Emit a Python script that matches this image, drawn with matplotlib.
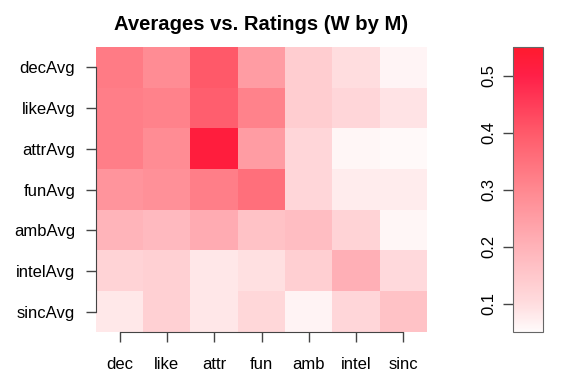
import numpy as np
import matplotlib
matplotlib.use("Agg")
import matplotlib.pyplot as plt
from matplotlib.colors import LinearSegmentedColormap, Normalize

plt.rcParams['font.family'] = ['Liberation Sans', 'DejaVu Sans']

rows = ["decAvg", "likeAvg", "attrAvg", "funAvg", "ambAvg", "intelAvg", "sincAvg"]
cols = ["dec", "like", "attr", "fun", "amb", "intel", "sinc"]

dec_avg = [0.326, 0.289, 0.400, 0.252, 0.134, 0.097, 0.060]
like_avg = [0.321, 0.312, 0.388, 0.312, 0.134, 0.113, 0.088]
attr_avg = [0.321, 0.289, 0.520, 0.252, 0.113, 0.058, 0.052]
fun_avg = [0.270, 0.280, 0.321, 0.353, 0.113, 0.075, 0.075]
amb_avg = [0.194, 0.182, 0.215, 0.162, 0.173, 0.122, 0.058]
intel_avg = [0.122, 0.129, 0.083, 0.093, 0.132, 0.206, 0.106]
sinc_avg = [0.080, 0.127, 0.083, 0.111, 0.063, 0.113, 0.162]

vals = np.array([dec_avg, like_avg, attr_avg, fun_avg, amb_avg, intel_avg, sinc_avg])

vmin, vmax = 0.05, 0.55
cb_ticks = [0.1, 0.2, 0.3, 0.4, 0.5]

# white -> red ramp
stops = [0.05, 0.1, 0.2, 0.3, 0.4, 0.5, 0.55]
stop_cols = ["#FFFBFB", "#FFDCDE", "#FFB2B8", "#FF8890", "#FF5A6A", "#FF2048", "#FF1A2E"]
cmap = LinearSegmentedColormap.from_list(
    "wr", [((s - vmin) / (vmax - vmin), c) for s, c in zip(stops, stop_cols)])
norm = Normalize(vmin=vmin, vmax=vmax)

fig = plt.figure(figsize=(5.82, 3.90), dpi=100)
ax = fig.add_axes([96 / 582, 1 - 332 / 390, 331 / 582, 285 / 390])
ax.imshow(vals, cmap=cmap, norm=norm, aspect='auto', interpolation='nearest')

ax.set_xticks(range(len(cols)))
ax.set_xticklabels(cols, fontsize=12)
ax.set_yticks(range(len(rows)))
ax.set_yticklabels(rows, fontsize=12)
ax.tick_params(axis='x', length=7, width=1, pad=11, color='#444444')
ax.tick_params(axis='y', length=7, width=1, pad=8, color='#444444')
for s in ['top', 'right']:
    ax.spines[s].set_visible(False)
ax.spines['left'].set_bounds(0, len(rows) - 1)
ax.spines['bottom'].set_bounds(0, len(cols) - 1)
ax.spines['left'].set_color('#444444')
ax.spines['bottom'].set_color('#444444')
ax.set_title("Averages vs. Ratings (W by M)", fontsize=14.6, fontweight='bold', pad=12)

cax = fig.add_axes([513 / 582, 1 - 332 / 390, 30 / 582, 285 / 390])
sm = plt.cm.ScalarMappable(cmap=cmap, norm=norm)
cb = fig.colorbar(sm, cax=cax, ticks=cb_ticks)
cb.outline.set_edgecolor('#666666')
cax.yaxis.set_ticks_position('left')
cax.yaxis.set_label_position('left')
cax.tick_params(axis='y', length=7, width=1, pad=5, color='#444444', labelsize=12)
for lbl in cax.get_yticklabels():
    lbl.set_rotation(90)
    lbl.set_va('center')

plt.savefig("out.png", dpi=100)
